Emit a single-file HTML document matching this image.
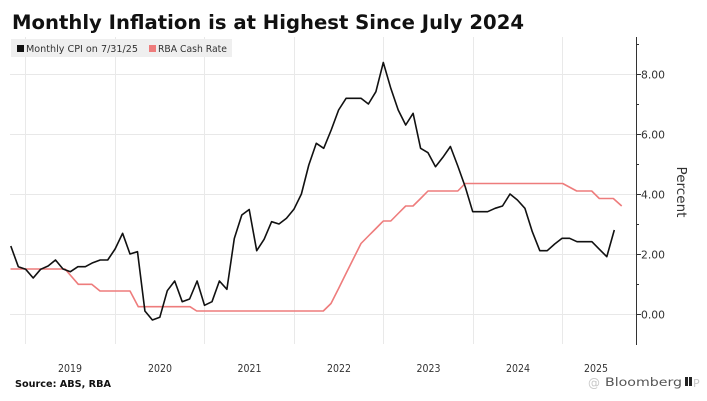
<!DOCTYPE html>
<html>
<head>
<meta charset="utf-8">
<style>
  html,body{margin:0;padding:0;background:#fff;}
  svg{display:block;}
  text{font-family:"DejaVu Sans","Liberation Sans",sans-serif;}
</style>
</head>
<body>
<svg width="707" height="401" viewBox="0 0 707 401" xmlns="http://www.w3.org/2000/svg">
  <rect width="707" height="401" fill="#ffffff"/>

  <!-- Title -->
  <text x="12" y="29" font-size="19.5" font-weight="bold" fill="#111" textLength="512" lengthAdjust="spacingAndGlyphs">Monthly Inflation is at Highest Since July 2024</text>

  <!-- Gridlines horizontal -->
  <g stroke="#e8e8e8" stroke-width="1">
    <line x1="10" y1="74.5" x2="636" y2="74.5"/>
    <line x1="10" y1="134.5" x2="636" y2="134.5"/>
    <line x1="10" y1="194.5" x2="636" y2="194.5"/>
    <line x1="10" y1="254.5" x2="636" y2="254.5"/>
    <line x1="10" y1="314.5" x2="636" y2="314.5"/>
  </g>
  <!-- Gridlines vertical -->
  <g stroke="#e9e9e9" stroke-width="1">
    <line x1="25.5" y1="37" x2="25.5" y2="344"/>
    <line x1="115.5" y1="37" x2="115.5" y2="344"/>
    <line x1="204.5" y1="37" x2="204.5" y2="344"/>
    <line x1="294.5" y1="37" x2="294.5" y2="344"/>
    <line x1="383.5" y1="37" x2="383.5" y2="344"/>
    <line x1="473.5" y1="37" x2="473.5" y2="344"/>
    <line x1="562.5" y1="37" x2="562.5" y2="344"/>
  </g>

  <!-- Legend -->
  <rect x="11" y="39" width="221" height="18" fill="#efefef"/>
  <rect x="17" y="45" width="7" height="7" fill="#111"/>
  <text x="26" y="52" font-size="10" fill="#333" textLength="112" lengthAdjust="spacingAndGlyphs">Monthly CPI on 7/31/25</text>
  <rect x="149" y="45" width="7" height="7" fill="#ee7c7c"/>
  <text x="158" y="52" font-size="10" fill="#333" textLength="69" lengthAdjust="spacingAndGlyphs">RBA Cash Rate</text>

  <!-- RBA Cash Rate -->
  <polyline fill="none" stroke="#ee7c7c" stroke-width="1.6" stroke-linejoin="round"
    points="10.5,269 65,269 78.3,284.3 91.7,284.3 100,291 130,291 138.3,306.7 190,306.7 196.7,311 323.3,311 331,303.5 338.6,288.5 346,273.5 353.5,258.5 361,243.5 368.4,236 375.9,228.5 383.3,221 390.8,221 398.2,213.5 405.7,206 413,206 420.6,198.5 428,191 457.8,191 465.2,183.5 562.7,183.5 576.7,191 591.7,191 599.3,198.5 613.3,198.5 621.7,206"/>

  <!-- Monthly CPI -->
  <polyline fill="none" stroke="#111" stroke-width="1.6" stroke-linejoin="round"
    points="10.8,246 18.3,266.7 25.7,269.3 33.2,278 40.6,269.3 48.1,266 55.5,260 63,269 70.4,271.7 77.9,266.7 85.3,266.7 92.8,262.7 100.2,260 107.7,260 115.1,249 122.6,233.3 130,254 137.5,251.7 144.9,311 152.4,320 159.8,317.3 167.3,290.7 174.7,281 182.2,301.7 189.6,299 197.1,281 204.5,305.3 212,301.7 219.4,281 226.9,289.3 234.3,238.5 241.8,215 249.2,209.5 256.7,250.7 264.1,239.3 271.6,221.7 279,224 286.5,218.3 293.9,209.3 301.4,194 308.8,165 316.3,143.3 323.7,148.3 331.2,130 338.6,110 346.1,98.3 353.5,98.3 361,98.3 368.4,104 375.9,91.7 383.3,62.5 390.8,88.3 398.2,110 405.7,125 413.1,113.3 420.6,148.3 428,152.7 435.5,166.7 442.9,157.3 450.4,146.5 457.8,166 465.3,187 472.7,211.7 480.2,211.7 487.6,211.7 495.1,208.3 502.5,206 510,194 517.4,200 524.9,208.3 532.3,231.7 539.8,250.7 547.2,250.7 554.7,244 562.1,238.3 569.6,238.3 577,241.7 584.5,241.7 591.9,241.7 599.4,249.3 606.8,256.7 614.3,230"/>

  <!-- Right axis -->
  <line x1="636.5" y1="37" x2="636.5" y2="345" stroke="#333" stroke-width="1"/>
  <g stroke="#333" stroke-width="1">
    <line x1="636" y1="74.5" x2="641" y2="74.5"/>
    <line x1="636" y1="134.5" x2="641" y2="134.5"/>
    <line x1="636" y1="194.5" x2="641" y2="194.5"/>
    <line x1="636" y1="254.5" x2="641" y2="254.5"/>
    <line x1="636" y1="314.5" x2="641" y2="314.5"/>
    <line x1="636" y1="44.5" x2="639" y2="44.5"/>
    <line x1="636" y1="104.5" x2="639" y2="104.5"/>
    <line x1="636" y1="164.5" x2="639" y2="164.5"/>
    <line x1="636" y1="224.5" x2="639" y2="224.5"/>
    <line x1="636" y1="284.5" x2="639" y2="284.5"/>
  </g>
  <g font-size="11" fill="#333">
    <text x="641" y="78.5" textLength="24" lengthAdjust="spacingAndGlyphs">8.00</text>
    <text x="641" y="138.5" textLength="24" lengthAdjust="spacingAndGlyphs">6.00</text>
    <text x="641" y="198.5" textLength="24" lengthAdjust="spacingAndGlyphs">4.00</text>
    <text x="641" y="258.5" textLength="24" lengthAdjust="spacingAndGlyphs">2.00</text>
    <text x="641" y="318.5" textLength="24" lengthAdjust="spacingAndGlyphs">0.00</text>
  </g>
  <text x="0" y="0" font-size="13" fill="#333" transform="translate(677,192) rotate(90)" text-anchor="middle" textLength="51" lengthAdjust="spacingAndGlyphs">Percent</text>

  <!-- X labels -->
  <g font-size="11" fill="#333" text-anchor="middle">
    <text x="70" y="372" textLength="24" lengthAdjust="spacingAndGlyphs">2019</text>
    <text x="160" y="372" textLength="24" lengthAdjust="spacingAndGlyphs">2020</text>
    <text x="249.5" y="372" textLength="24" lengthAdjust="spacingAndGlyphs">2021</text>
    <text x="339" y="372" textLength="24" lengthAdjust="spacingAndGlyphs">2022</text>
    <text x="428.5" y="372" textLength="24" lengthAdjust="spacingAndGlyphs">2023</text>
    <text x="518" y="372" textLength="24" lengthAdjust="spacingAndGlyphs">2024</text>
    <text x="596" y="372" textLength="24" lengthAdjust="spacingAndGlyphs">2025</text>
  </g>

  <!-- Source -->
  <text x="15" y="387" font-size="10" font-weight="bold" fill="#111" textLength="96" lengthAdjust="spacingAndGlyphs">Source: ABS, RBA</text>

  <!-- Bloomberg logo + watermark -->
  <text x="588" y="387" font-size="12" fill="#c8c8c8">@</text>
  <text x="605" y="386" font-size="11.5" fill="#555" textLength="77" lengthAdjust="spacingAndGlyphs">Bloomberg</text>
  <rect x="685" y="377" width="7" height="9" fill="#222"/>
  <rect x="688" y="377" width="1" height="9" fill="#fff"/>
  <text x="693" y="387" font-size="11" fill="#c8c8c8">P</text>
</svg>
</body>
</html>
